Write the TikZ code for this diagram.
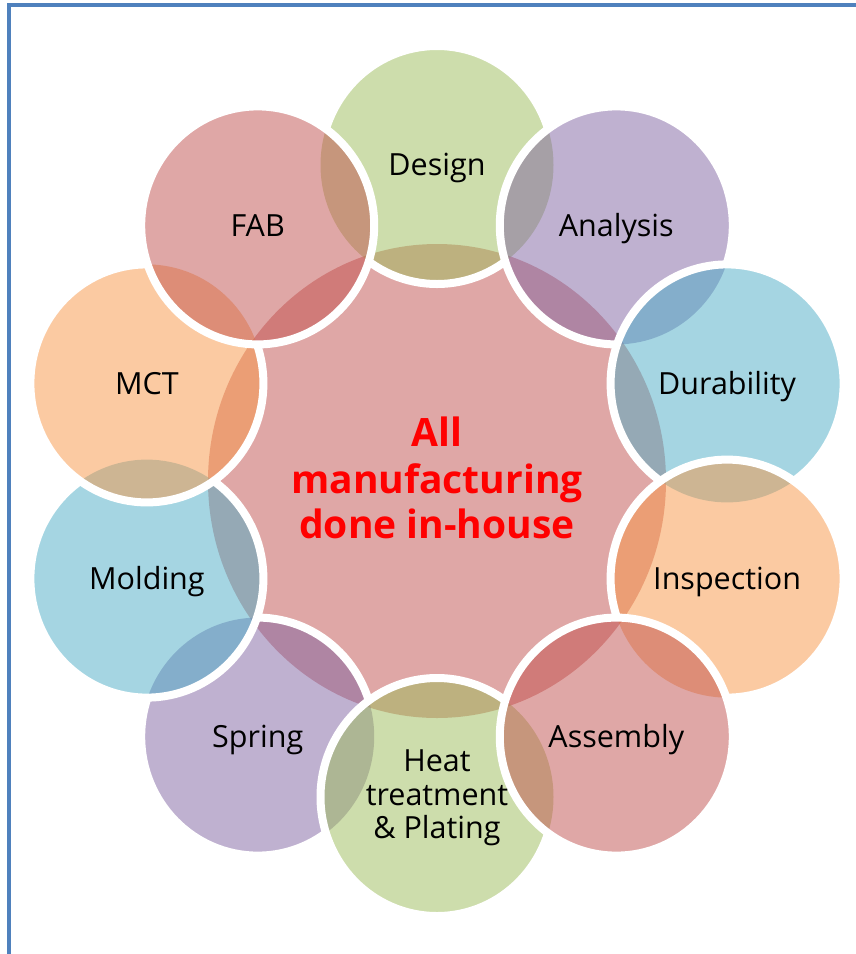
\documentclass[tikz,border=0pt]{standalone}
\usepackage{fontspec}
\setmainfont{Open Sans}
\definecolor{accRed}{HTML}{C0504D}
\definecolor{accGreen}{HTML}{9BBB59}
\definecolor{accPurple}{HTML}{8064A2}
\definecolor{accAqua}{HTML}{4BACC6}
\definecolor{accOrange}{HTML}{F79646}
\definecolor{frameBlue}{HTML}{4F81BD}
% white rim of a petal, hidden where a petal laid on top of it covers it
\newcommand\petalrim[2]{%
  \begin{scope}[even odd rule]
    \clip (-20,-20) rectangle (880,980) #2;
    \draw[rim] (#1) ellipse [petal];
  \end{scope}}
\begin{document}
\begin{tikzpicture}[x=1pt,y=-1pt,
  petal/.style={x radius=116.5, y radius=119},
  hub/.style={x radius=229, y radius=237},
  rim/.style={draw=white, line width=8pt},
  tint/.style={fill=#1, fill opacity=0.5},
  lbl/.style={anchor=base, inner sep=0pt, text=black,
    font=\fontsize{30.5}{33}\selectfont},
  hubtext/.style={anchor=base, inner sep=0pt, text=red,
    font=\fontsize{39}{46}\selectfont\bfseries},
  frame/.style={draw=frameBlue, line width=4pt}]
\useasboundingbox (0,0) rectangle (855,954);

% centres of the hub and of the ten petals
\coordinate (C)  at (437,481);
\coordinate (D)  at (437,165);
\coordinate (A)  at (616.3,225.4);
\coordinate (Du) at (727.1,383.4);
\coordinate (I)  at (727.1,578.6);
\coordinate (As) at (616.3,736.6);
\coordinate (H)  at (437,797);
\coordinate (S)  at (257.7,736.6);
\coordinate (Mo) at (146.9,578.6);
\coordinate (MC) at (146.9,383.4);
\coordinate (F)  at (257.7,225.4);

% frame
\coordinate (fb) at (8.7,960);
\coordinate (fc) at (8.7,5);
\coordinate (fr) at (860,5);
\draw[frame] (fb) -- (fc) -- (fr);

% hub
\fill[tint=accRed] (C) ellipse [hub];

% petals, each laid over the ones drawn before it
\fill[tint=accPurple] (S) ellipse [petal];
\petalrim{S}{(H) ellipse [petal] (Mo) ellipse [petal]}
\fill[tint=accGreen] (H) ellipse [petal];
\petalrim{H}{(As) ellipse [petal]}
\fill[tint=accAqua] (Mo) ellipse [petal];
\petalrim{Mo}{(MC) ellipse [petal]}
\fill[tint=accOrange] (MC) ellipse [petal];
\petalrim{MC}{(F) ellipse [petal]}
\fill[tint=accGreen] (D) ellipse [petal];
\petalrim{D}{(F) ellipse [petal] (A) ellipse [petal]}
\fill[tint=accRed] (F) ellipse [petal];
\draw[rim] (F) ellipse [petal];
\fill[tint=accPurple] (A) ellipse [petal];
\petalrim{A}{(Du) ellipse [petal]}
\fill[tint=accAqua] (Du) ellipse [petal];
\petalrim{Du}{(I) ellipse [petal]}
\fill[tint=accOrange] (I) ellipse [petal];
\petalrim{I}{(As) ellipse [petal]}
\fill[tint=accRed] (As) ellipse [petal];
\draw[rim] (As) ellipse [petal];

% labels
\node[lbl] (tD)  at (437,175.5)   {Design};
\node[lbl] (tA)  at (616.3,236)   {Analysis};
\node[lbl] (tDu) at (727.1,394)   {Durability};
\node[lbl] (tI)  at (727.1,589)   {Inspection};
\node[lbl] (tAs) at (616.3,747)   {Assembly};
\node[lbl] (tH1) at (437,771.7)   {Heat};
\node[lbl] (tH2) at (437,805)     {treatment};
\node[lbl] (tH3) at (437,838.3)   {\& Plating};
\node[lbl] (tS)  at (257.7,747)   {Spring};
\node[lbl] (tMo) at (146.9,589)   {Molding};
\node[lbl] (tMC) at (146.9,394)   {MCT};
\node[lbl] (tF)  at (257.7,236)   {FAB};

\node[hubtext] (c1) at (437,446.7) {All};
\node[hubtext] (c2) at (437,493)   {manufacturing};
\node[hubtext] (c3) at (437,538.3) {done in-house};
\end{tikzpicture}
\end{document}
